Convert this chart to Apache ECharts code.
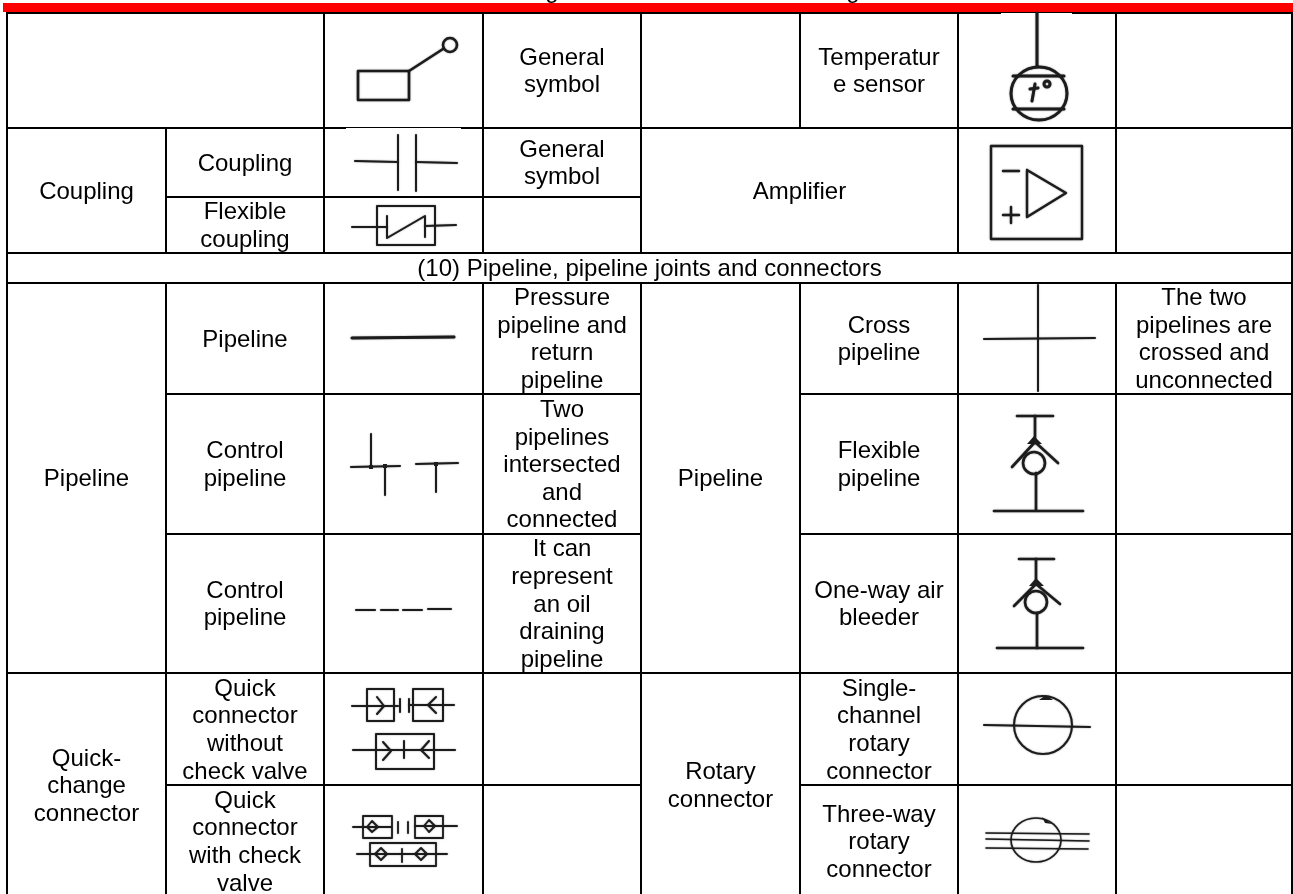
<!DOCTYPE html>
<html>
<head>
<meta charset="utf-8">
<title>Pipeline symbols</title>
<script src="https://cdn.jsdelivr.net/npm/echarts@6/dist/echarts.min.js"></script>
<style>
  html, body { margin: 0; padding: 0; background: #fff; }
  #chart { width: 1293px; height: 894px; }
</style>
</head>
<body>
<div id="chart"></div>
<script>
// Table of hydraulic symbols. Grid edges and cells are read off the picture,
// everything goes through one hidden pixel-sized value axis pair.
const colEdges = [7, 166, 324, 483, 641, 800, 958, 1116, 1292];
const rowEdges = [13, 128, 197, 253, 283, 394, 534, 673, 785, 897];

// [firstCol, lastCol, firstRow, lastRow, text]
const cells = [
  [0, 2, 0, 1, ''],
  [2, 3, 0, 1, ''],
  [3, 4, 0, 1, 'General\nsymbol'],
  [4, 5, 0, 1, ''],
  [5, 6, 0, 1, 'Temperatur\ne sensor'],
  [6, 7, 0, 1, ''],
  [7, 8, 0, 1, ''],
  [0, 1, 1, 3, 'Coupling'],
  [1, 2, 1, 2, 'Coupling'],
  [2, 3, 1, 2, ''],
  [3, 4, 1, 2, 'General\nsymbol'],
  [1, 2, 2, 3, 'Flexible\ncoupling'],
  [2, 3, 2, 3, ''],
  [3, 4, 2, 3, ''],
  [4, 6, 1, 3, 'Amplifier'],
  [6, 7, 1, 3, ''],
  [7, 8, 1, 3, ''],
  [0, 8, 3, 4, '(10) Pipeline, pipeline joints and connectors'],
  [0, 1, 4, 7, 'Pipeline'],
  [1, 2, 4, 5, 'Pipeline'],
  [2, 3, 4, 5, ''],
  [3, 4, 4, 5, 'Pressure\npipeline and\nreturn\npipeline'],
  [4, 5, 4, 7, 'Pipeline'],
  [5, 6, 4, 5, 'Cross\npipeline'],
  [6, 7, 4, 5, ''],
  [7, 8, 4, 5, 'The two\npipelines are\ncrossed and\nunconnected'],
  [1, 2, 5, 6, 'Control\npipeline'],
  [2, 3, 5, 6, ''],
  [3, 4, 5, 6, 'Two\npipelines\nintersected\nand\nconnected'],
  [5, 6, 5, 6, 'Flexible\npipeline'],
  [6, 7, 5, 6, ''],
  [7, 8, 5, 6, ''],
  [1, 2, 6, 7, 'Control\npipeline'],
  [2, 3, 6, 7, ''],
  [3, 4, 6, 7, 'It can\nrepresent\nan oil\ndraining\npipeline'],
  [5, 6, 6, 7, 'One-way air\nbleeder'],
  [6, 7, 6, 7, ''],
  [7, 8, 6, 7, ''],
  [0, 1, 7, 9, 'Quick-\nchange\nconnector'],
  [1, 2, 7, 8, 'Quick\nconnector\nwithout\ncheck valve'],
  [2, 3, 7, 8, ''],
  [3, 4, 7, 8, ''],
  [1, 2, 8, 9, 'Quick\nconnector\nwith check\nvalve'],
  [2, 3, 8, 9, ''],
  [3, 4, 8, 9, ''],
  [4, 5, 7, 9, 'Rotary\nconnector'],
  [5, 6, 7, 8, 'Single-\nchannel\nrotary\nconnector'],
  [6, 7, 7, 8, ''],
  [7, 8, 7, 8, ''],
  [5, 6, 8, 9, 'Three-way\nrotary\nconnector'],
  [6, 7, 8, 9, ''],
  [7, 8, 8, 9, ''],
];

// symbol drawings: polylines as flat x,y lists, in picture units
const leverLines = [[358, 71, 409, 71, 409, 100, 358, 100, 358, 71], [409, 71, 443, 49]];
const couplingLines = [[355, 161, 398, 162], [398, 135, 398, 190], [416, 135, 416, 191], [416, 162, 457, 163]];
const flexibleLines = [[377, 206, 435, 206, 435, 245, 377, 245, 377, 206], [352, 227, 387, 227], [425, 226, 456, 225], [387, 216, 387, 238, 425, 216, 425, 237]];
const sensorLines = [[1037, 13, 1037, 66], [1013, 76, 1064, 76], [1013, 109, 1064, 109], [1035, 84, 1032, 101], [1030, 89, 1038, 88]];
const amplifierLines = [[991, 146, 1082, 146, 1082, 239, 991, 239, 991, 146], [1027, 170, 1066, 193, 1027, 217, 1027, 170], [1003, 171, 1019, 171], [1003, 215, 1019, 215], [1011, 207, 1011, 223]];
const pressureLines = [[352, 338, 454, 337]];
const connectedLines = [[371, 434, 371, 467], [351, 467, 400, 466], [385, 466, 385, 495], [416, 464, 458, 463], [436, 464, 436, 492]];
const drainLines = [[356, 610, 375, 610], [381, 610, 398, 610], [403, 610, 422, 610], [428, 609, 451, 609]];
const crossLines = [[984, 339, 1095, 338], [1038, 285, 1038, 391]];
const flexPipeLines = [[1017, 416, 1053, 416], [1035, 416, 1035, 443], [1012, 467, 1035, 442, 1058, 463], [1036, 473, 1036, 510], [994, 511, 1083, 511]];
const bleederLines = [[1019, 559, 1054, 559], [1036, 559, 1036, 584], [1014, 606, 1036, 584, 1060, 604], [1037, 613, 1037, 648], [997, 648, 1083, 648]];
const quickLines = [
  [367, 689, 394, 689, 394, 721, 367, 721, 367, 689], [413, 689, 443, 689, 443, 721, 413, 721, 413, 689],
  [352, 706, 398, 706], [400, 699, 400, 712], [409, 699, 409, 712], [409, 705, 454, 705],
  [377, 697, 384, 706, 377, 714], [436, 697, 428, 705, 436, 713],
  [376, 734, 434, 734, 434, 769, 376, 769, 376, 734], [353, 750, 455, 750], [404, 741, 404, 758],
  [383, 742, 391, 751, 383, 760], [429, 741, 421, 750, 429, 758],
];
const checkLines = [
  [363, 816, 392, 816, 392, 838, 363, 838, 363, 816], [415, 816, 443, 816, 443, 838, 415, 838, 415, 816],
  [353, 827, 391, 827], [398, 822, 398, 833], [408, 822, 408, 833], [415, 826, 457, 826],
  [367, 827, 372, 821, 378, 827, 372, 832, 367, 827], [424, 826, 429, 820, 435, 826, 429, 832, 424, 826],
  [370, 843, 436, 843, 436, 866, 370, 866, 370, 843], [357, 854, 447, 854], [402, 849, 402, 862],
  [375, 854, 381, 848, 387, 854, 381, 860, 375, 854], [415, 854, 421, 848, 427, 854, 421, 860, 415, 854],
];
const singleRotaryLines = [[984, 725, 1090, 727]];
const threeWayLines = [[986, 833, 1089, 834], [986, 839, 1089, 841], [986, 848, 1088, 849]];

// ellipses: cx, cy, rx, ry
const leverRings = [[450, 45, 7, 7]];
const sensorRings = [[1039, 93.5, 28, 26.5], [1047, 84, 3, 3]];
const flexPipeRings = [[1034, 463, 11, 11]];
const bleederRings = [[1036, 602, 11, 11]];
const rotaryRings = [[1043, 725, 29, 29]];
const threeWayRings = [[1036, 840, 25, 22]];

// solid bits: arrow heads and joint dots
const solidShapes = [
  [1039, 700, 1046, 695, 1053, 700],
  [1042, 817, 1052, 824, 1045, 823],
  [1034, 436, 1027, 444, 1042, 444],
  [1036, 578, 1029, 586, 1044, 586],
  [369, 465, 373, 465, 373, 469, 369, 469],
  [383, 464, 387, 464, 387, 468, 383, 468],
  [434, 462, 438, 462, 438, 466, 434, 466],
];

// [name, lines, rings, width]
const symbols = [
  ['lever', leverLines, leverRings, 2.6],
  ['coupling', couplingLines, [], 2],
  ['flexible', flexibleLines, [], 2],
  ['sensor', sensorLines, sensorRings, 3],
  ['amplifier', amplifierLines, [], 2.4],
  ['pressure', pressureLines, [], 3],
  ['connected', connectedLines, [], 2],
  ['drain', drainLines, [], 2],
  ['cross', crossLines, [], 2],
  ['flexPipe', flexPipeLines, flexPipeRings, 2.6],
  ['bleeder', bleederLines, bleederRings, 2.6],
  ['quick', quickLines, [], 2],
  ['check', checkLines, [], 1.8],
  ['singleRotary', singleRotaryLines, rotaryRings, 2],
  ['threeWay', threeWayLines, threeWayRings, 1.6],
];

// header band and the white nicks over the rules
const bandBox = [3, 3, 1293, 12];
const whiteNicks = [[346, 128, 461, 129], [1001, 13, 1072, 14]];
const clippedLetters = [[552, 'g'], [853, 'g']];

const FONT = '"Liberation Sans", Arial, sans-serif';
const INK = '#1c1c1c';
const TEXT_NUDGE = 1.5; // canvas middle sits a bit above the Word-style text in the picture
const chart = echarts.init(document.getElementById('chart'), null, { renderer: 'canvas' });

function renderCell(params, api) {
  const c = cells[params.dataIndex];
  const a = api.coord([colEdges[c[0]], rowEdges[c[2]]]);
  const b = api.coord([colEdges[c[1]], rowEdges[c[3]]]);
  return {
    type: 'group',
    children: [
      { type: 'rect', shape: { x: a[0], y: a[1], width: b[0] - a[0], height: b[1] - a[1] },
        style: { fill: 'none', stroke: '#000', lineWidth: 2 } },
      { type: 'text', x: (a[0] + b[0]) / 2, y: (a[1] + b[1]) / 2 + TEXT_NUDGE,
        style: { text: c[4], font: '24px ' + FONT, lineHeight: 27.6, fill: '#000', align: 'center', verticalAlign: 'middle' } },
    ],
  };
}

function renderSymbol(params, api) {
  const s = symbols[params.dataIndex];
  const style = { fill: 'none', stroke: INK, lineWidth: s[3], lineCap: 'round', lineJoin: 'round', shadowBlur: 1.5, shadowColor: 'rgba(0,0,0,0.5)' };
  const children = [];
  s[1].forEach((flat) => {
    const points = [];
    for (let i = 0; i < flat.length; i += 2) points.push(api.coord([flat[i], flat[i + 1]]));
    children.push({ type: 'polyline', shape: { points }, style });
  });
  s[2].forEach((r) => {
    const c = api.coord([r[0], r[1]]);
    children.push({ type: 'ellipse', shape: { cx: c[0], cy: c[1], rx: r[2], ry: r[3] }, style });
  });
  return { type: 'group', children };
}

function renderSolid(params, api) {
  const flat = solidShapes[params.dataIndex];
  const points = [];
  for (let i = 0; i < flat.length; i += 2) points.push(api.coord([flat[i], flat[i + 1]]));
  return { type: 'polygon', shape: { points }, style: { fill: INK } };
}

function renderBox(color) {
  return (params, api) => {
    const v = [api.value(0), api.value(1), api.value(2), api.value(3)];
    const a = api.coord([v[0], v[1]]);
    const b = api.coord([v[2], v[3]]);
    return { type: 'rect', shape: { x: a[0], y: a[1], width: b[0] - a[0], height: b[1] - a[1] }, style: { fill: color } };
  };
}

function renderLetter(params, api) {
  const p = api.coord([api.value(0), 3]);
  return { type: 'text', x: p[0], y: p[1], style: { text: clippedLetters[params.dataIndex][1], font: '24px ' + FONT, fill: '#000', align: 'center', verticalAlign: 'bottom' } };
}

function layer(z, renderItem, data) {
  return { type: 'custom', coordinateSystem: 'cartesian2d', clip: false, silent: true, z, renderItem, data, animation: false };
}

chart.setOption({
  backgroundColor: '#fff',
  animation: false,
  grid: { left: 0, right: 0, top: 0, bottom: 0 },
  xAxis: { type: 'value', min: 0, max: 1293, show: false },
  yAxis: { type: 'value', min: 0, max: 894, inverse: true, show: false },
  series: [
    layer(1, renderLetter, clippedLetters.map((d) => [d[0], 0])),
    layer(2, renderCell, cells.map((c, i) => [i, 0])),
    layer(3, renderBox('#ff0000'), [bandBox]),
    layer(4, renderBox('#fff'), whiteNicks),
    layer(5, renderSymbol, symbols.map((s, i) => [i, 0])),
    layer(6, renderSolid, solidShapes.map((s, i) => [i, 0])),
  ],
});
</script>
</body>
</html>
